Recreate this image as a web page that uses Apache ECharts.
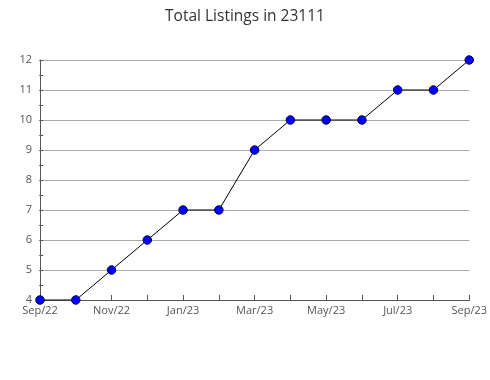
<!DOCTYPE html>
<html><head><meta charset="utf-8">
<script src="https://cdn.jsdelivr.net/npm/echarts@6/dist/echarts.min.js"></script>
<style>html,body{margin:0;padding:0;background:#fff}#c{width:490px;height:380px}</style>
</head><body><div id="c"></div>
<script>
const months = ["Sep/22","Oct/22","Nov/22","Dec/22","Jan/23","Feb/23","Mar/23","Apr/23","May/23","Jun/23","Jul/23","Aug/23","Sep/23"];
const listings = [4,4,5,6,7,7,9,10,10,10,11,11,12];
const chart = echarts.init(document.getElementById('c'));
chart.setOption({
  animation:false,
  title:{text:"Total Listings in 23111",left:'center',top:4,textStyle:{fontFamily:'Open Sans',fontSize:15.5,fontWeight:'normal',color:'#333'}},
  grid:{left:40,right:20,top:60,bottom:80},
  xAxis:{type:'category',data:months,boundaryGap:false,
    axisLine:{lineStyle:{color:'#555'}},
    axisTick:{inside:true,interval:0,length:5,lineStyle:{color:'#555'}},
    axisLabel:{interval:1,color:'#555',fontFamily:'Open Sans',fontSize:11,margin:5},
    splitLine:{show:false}},
  yAxis:[{type:'value',min:4,max:12,interval:1,
    axisLine:{show:true,lineStyle:{color:'#555'}},
    axisTick:{show:false},
    axisLabel:{color:'#555',fontFamily:'Open Sans',fontSize:11,margin:8},
    splitLine:{lineStyle:{color:'#aaa'}}},
    {type:'value',min:4,max:12,interval:0.5,position:'right',offset:-430,
    axisLine:{show:false},
    axisTick:{show:true,inside:false,length:4,lineStyle:{color:'#555'}},
    axisLabel:{show:false},
    splitLine:{show:false}}],
  series:[{type:'line',data:listings,symbol:'circle',symbolSize:8.5,
    lineStyle:{color:'#000',width:1},
    itemStyle:{color:'#0000ff',borderColor:'#000033',borderWidth:1}}]
});
</script></body></html>
